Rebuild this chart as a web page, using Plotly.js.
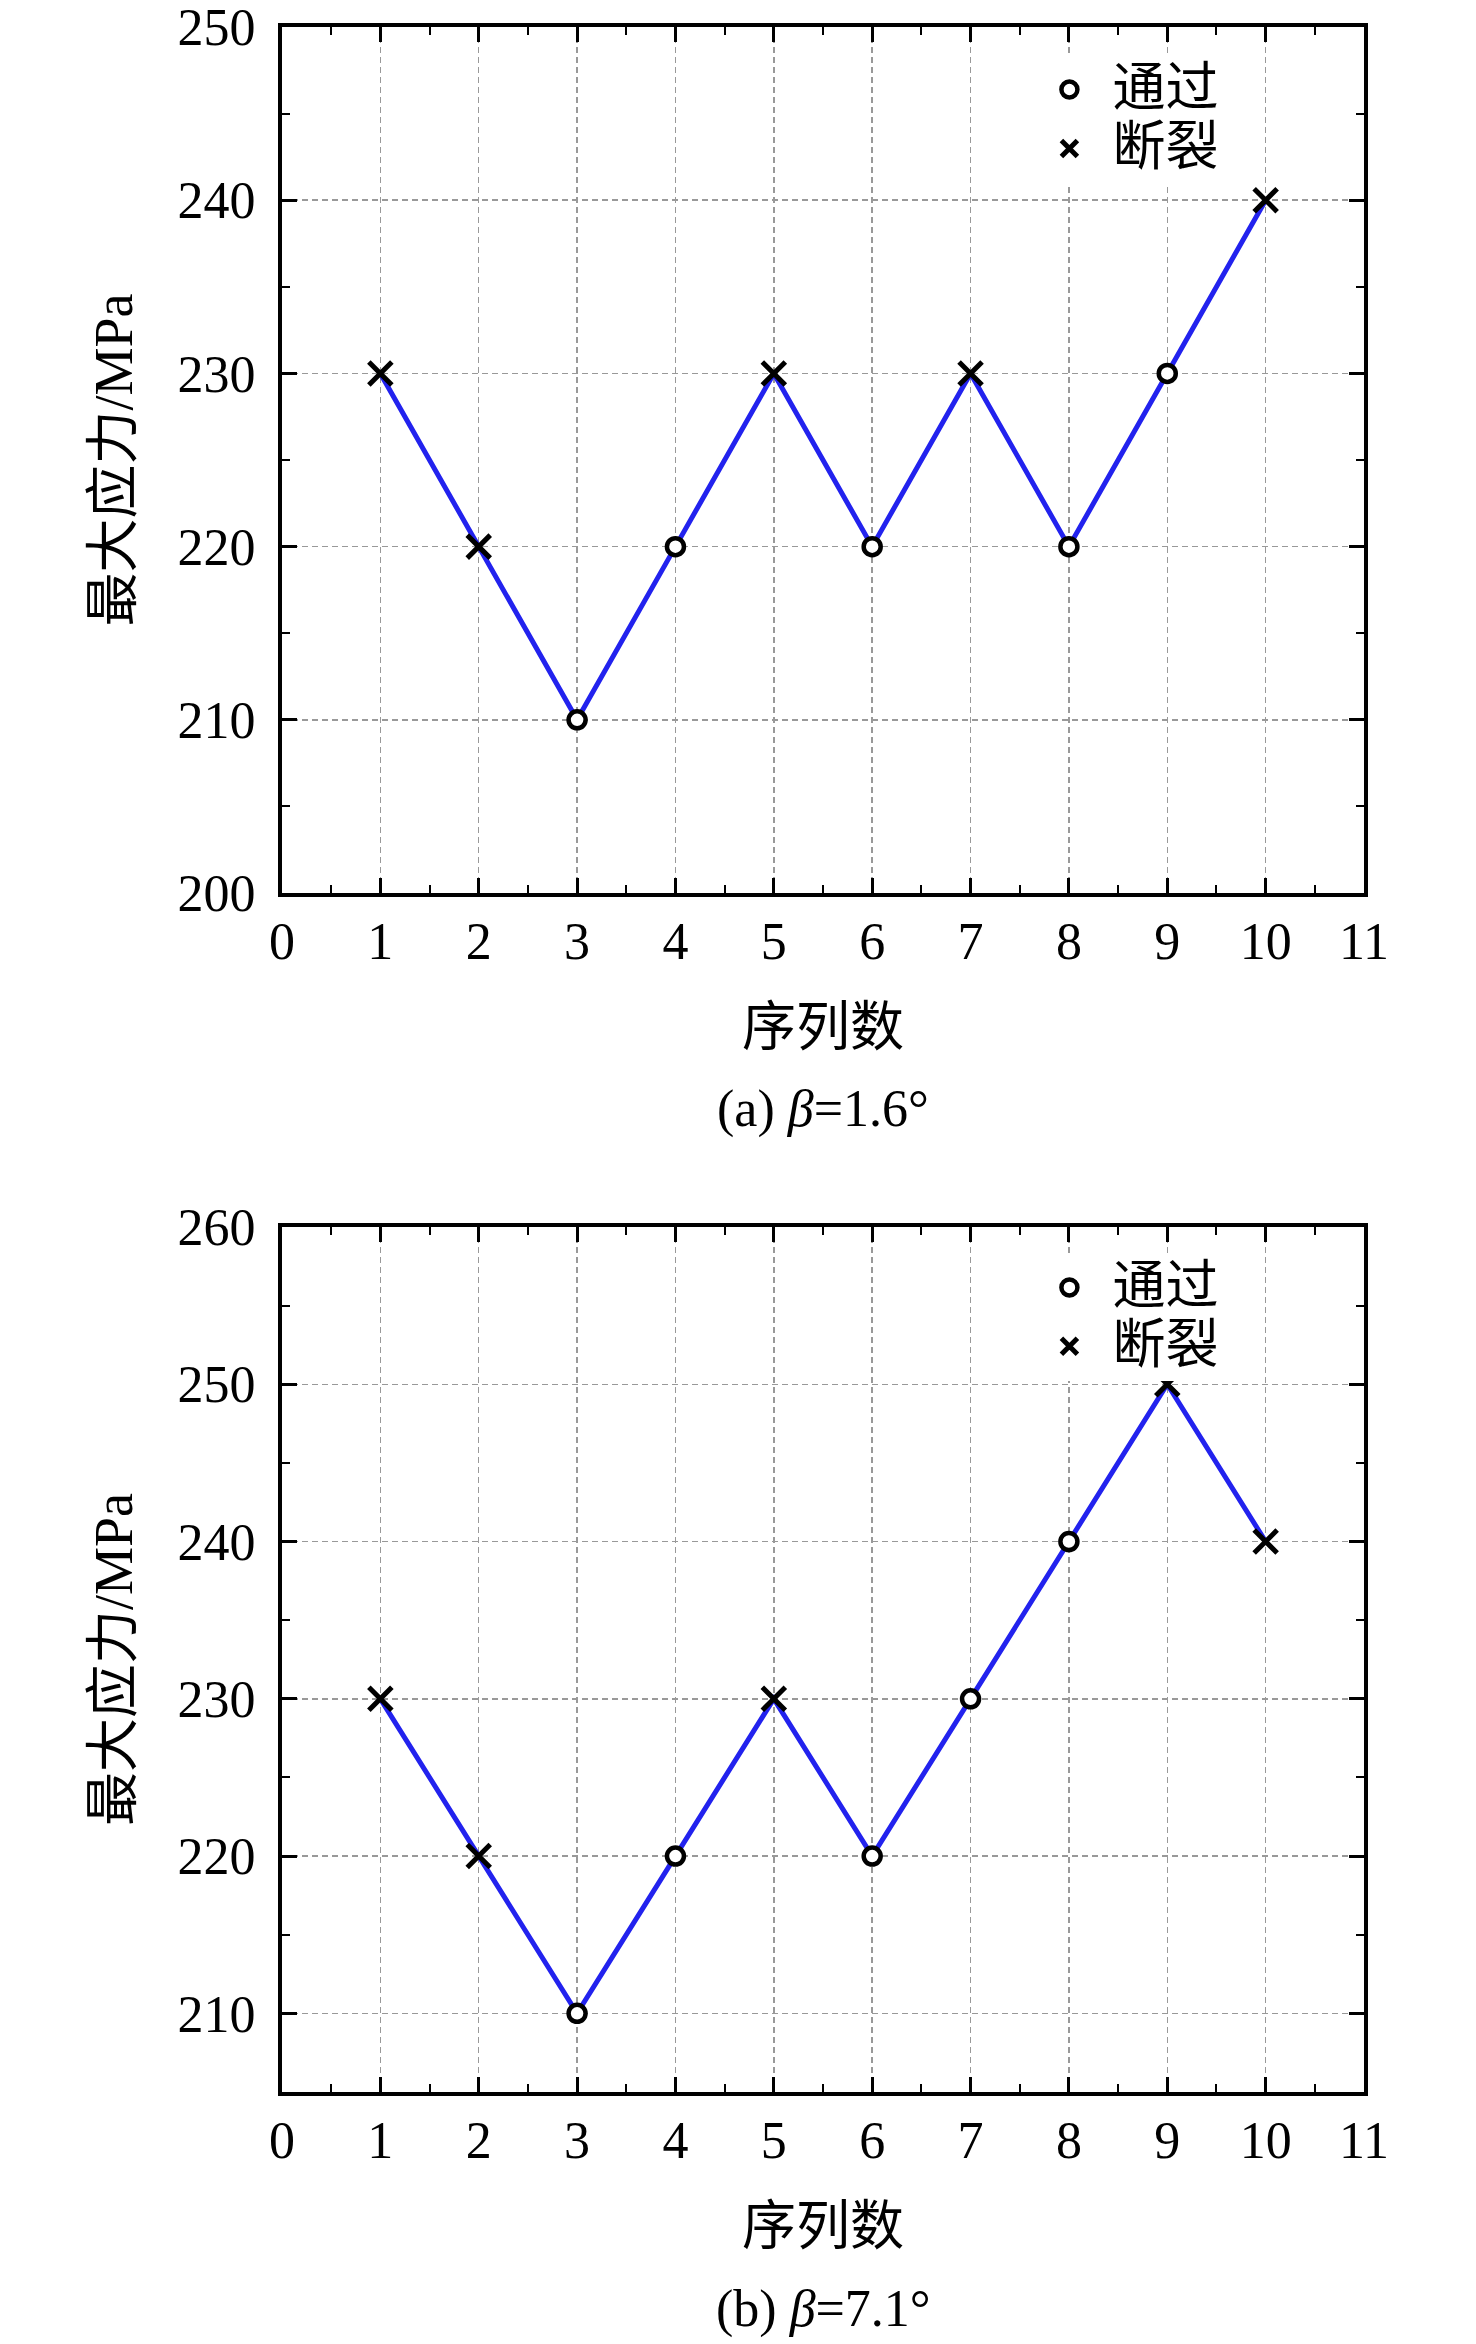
<!DOCTYPE html>
<html>
<head>
<meta charset="utf-8">
<script src="https://cdn.plot.ly/plotly-3.0.1.min.js"></script>
<style>body{margin:0;background:#fff}</style>
</head>
<body>
<div id="chart" style="width:1476px;height:2344px"></div>
<script>
// 序列数 and the two test series
const seq = [1, 2, 3, 4, 5, 6, 7, 8, 9, 10];
const stressA = [230, 220, 210, 220, 230, 220, 230, 220, 230, 240];
const resultA = ['断裂', '断裂', '通过', '通过', '断裂', '通过', '断裂', '通过', '通过', '断裂'];
const stressB = [230, 220, 210, 220, 230, 220, 230, 240, 250, 240];
const resultB = ['断裂', '断裂', '通过', '通过', '断裂', '通过', '通过', '通过', '断裂', '断裂'];
const captionA = '(a) <i>β</i>=1.6°';
const captionB = '(b) <i>β</i>=7.1°';

const FONT = 'Liberation Serif, "Noto Sans CJK SC", serif';
const BLUE = '#2222ee';

function pick(values, results, label) {
    return values.map((v, i) => results[i] === label ? v : null);
}

function panel(values, results, xa, ya, legend) {
    return [
        {
            x: seq, y: values, xaxis: xa, yaxis: ya, mode: 'lines',
            line: { color: BLUE, width: 5 }, showlegend: false, hoverinfo: 'skip'
        },
        {
            x: seq, y: pick(values, results, '通过'), xaxis: xa, yaxis: ya, mode: 'markers',
            name: '<span style="font-size:53px">通过</span>', legend: legend,
            marker: { symbol: 'circle', size: 17, color: 'white', line: { color: 'black', width: 4.5 } }
        },
        {
            x: seq, y: pick(values, results, '断裂'), xaxis: xa, yaxis: ya, mode: 'markers',
            name: '<span style="font-size:53px">断裂</span>', legend: legend,
            marker: { symbol: 'x-thin', size: 23, line: { color: 'black', width: 5 } }
        }
    ];
}

const data = [].concat(
    panel(stressA, resultA, 'x', 'y', 'legend'),
    panel(stressB, resultB, 'x2', 'y2', 'legend2')
);

function xAxis(anchor) {
    return {
        anchor: anchor, domain: [0, 1], range: [0, 11],
        tick0: 0, dtick: 1, ticks: 'inside', ticklen: 15, tickwidth: 3, tickcolor: 'black',
        minor: { dtick: 0.5, ticks: 'inside', ticklen: 8, tickwidth: 2, tickcolor: 'black' },
        showline: true, linewidth: 4, linecolor: 'black', mirror: 'ticks',
        showgrid: true, gridcolor: '#999', gridwidth: 1.5, griddash: '6px,4px',
        zeroline: false, tickfont: { size: 52 }, ticklabelstandoff: 0,
        ticklabeloverflow: 'allow',
        title: { text: '序列数', font: { size: 54 }, standoff: 40 }
    };
}

function yAxis(anchor, domain, range) {
    return {
        anchor: anchor, domain: domain, range: range,
        tick0: 200, dtick: 10, ticks: 'inside', ticklen: 15, tickwidth: 3, tickcolor: 'black',
        minor: { dtick: 5, ticks: 'inside', ticklen: 8, tickwidth: 2, tickcolor: 'black' },
        showline: true, linewidth: 4, linecolor: 'black', mirror: 'ticks',
        showgrid: true, gridcolor: '#999', gridwidth: 1.5, griddash: '6px,4px',
        zeroline: false, tickfont: { size: 52 }, ticklabelstandoff: 12,
        ticklabeloverflow: 'allow',
        title: { text: '最大应力/MPa', font: { size: 54 }, standoff: 29 }
    };
}

const legendStyle = {
    font: { size: 43 }, bgcolor: 'white', borderwidth: 0, itemwidth: 76,
    xanchor: 'left', yanchor: 'top', x: 0.688
};

const layout = {
    width: 1476, height: 2344,
    margin: { l: 282, r: 112, t: 27, b: 252 },
    paper_bgcolor: 'white', plot_bgcolor: 'white',
    font: { family: FONT, color: 'black' },
    xaxis: xAxis('y'),
    yaxis: yAxis('x', [0.5806, 1], [200, 250]),
    xaxis2: xAxis('y2'),
    yaxis2: yAxis('x2', [0, 0.4189], [205, 260]),
    legend: Object.assign({ y: 0.9864 }, legendStyle),
    legend2: Object.assign({ y: 0.4063 }, legendStyle),
    annotations: [
        { text: captionA, xref: 'paper', yref: 'paper', x: 0.5, y: 0.476,
          xanchor: 'center', yanchor: 'middle', showarrow: false, font: { size: 52 } },
        { text: captionB, xref: 'paper', yref: 'paper', x: 0.5, y: -0.1051,
          xanchor: 'center', yanchor: 'middle', showarrow: false, font: { size: 52 } }
    ]
};

Plotly.newPlot('chart', data, layout, { staticPlot: true });
</script>
</body>
</html>
